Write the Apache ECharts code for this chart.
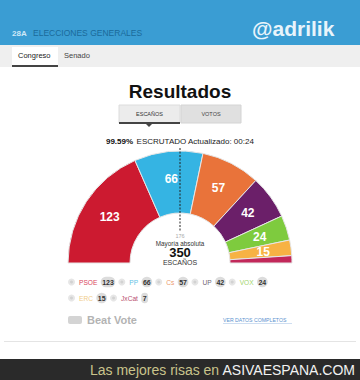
<!DOCTYPE html>
<html>
<head>
<meta charset="utf-8">
<script src="https://cdn.jsdelivr.net/npm/echarts@6/dist/echarts.min.js"></script>
<style>
  html, body { margin: 0; padding: 0; background: #fff; }
  #chart { width: 360px; height: 380px; }
</style>
</head>
<body>
<div id="chart"></div>
<script>
// datos del gráfico
const parties = ['PSOE', 'PP', 'Cs', 'UP', 'VOX', 'ERC', 'JxCat']
const seats = [123, 66, 57, 42, 24, 15, 7]
const totalSeats = 350
const majority = 176
const scrutinized = '99.59%'
const updatedAt = '00:24'

// colores de cada partido
const partyColors = ['#cc1a30', '#35b4e3', '#e9733a', '#6b1f69', '#7ecb3e', '#f7b244', '#c2285a']
const legendColors = ['#d9455a', '#62c2e6', '#eb9a6e', '#6f6575', '#9fd46e', '#f0cc88', '#b8506e']

const font = 'Liberation Sans, Arial, sans-serif'
const chart = echarts.init(document.getElementById('chart'), null, { renderer: 'svg' })

const rich = { b: { backgroundColor: '#dcdcdc', borderRadius: 6, padding: [2, 1.5, 1.5, 1.5], fontWeight: 'bold', fontSize: 7, color: '#333', fontFamily: font } }
parties.forEach((p, i) => {
  rich['c' + i] = { color: legendColors[i], fontSize: 6.6, fontFamily: font }
})

// leyenda en dos filas
const makeLegend = (names, top) => ({
  data: names,
  left: 68,
  top: top,
  padding: 0,
  itemGap: 3,
  icon: 'circle',
  itemWidth: 5,
  itemHeight: 5,
  itemStyle: { color: '#d2d2d2' },
  selectedMode: false,
  formatter: name => {
    const i = parties.indexOf(name)
    return '{c' + i + '|' + name + '} {b|' + seats[i] + '}'
  },
  textStyle: { rich: rich }
})

chart.setOption({
  animation: false,
  backgroundColor: '#fff',
  legend: [makeLegend(parties.slice(0, 5), 276), makeLegend(parties.slice(5), 292)],
  series: [{
    type: 'pie',
    center: [180, 263],
    radius: [50, 112],
    startAngle: 180,
    endAngle: 360,
    silent: true,
    data: parties.map((p, i) => ({ name: p, value: seats[i], itemStyle: { color: partyColors[i] } })),
    itemStyle: { borderColor: '#e6e6e6', borderWidth: 1 },
    label: {
      show: true,
      position: 'inside',
      color: '#fff',
      fontWeight: 'bold',
      fontSize: 12,
      fontFamily: font,
      formatter: p => (p.value >= 10 ? p.value : '')
    },
    labelLine: { show: false }
  }],
  graphic: [
    // cabecera azul
    { type: 'rect', shape: { x: 0, y: 0, width: 360, height: 45 }, style: { fill: '#3a9dd3' }, z: 1 },
    { type: 'text', x: 12, y: 33, style: { text: '28A', fill: '#cfe8f7', font: 'bold 8px ' + font, textVerticalAlign: 'middle' }, z: 2 },
    { type: 'text', x: 33, y: 33, style: { text: 'ELECCIONES GENERALES', fill: '#1b6a9a', font: '8.5px ' + font, textVerticalAlign: 'middle' }, z: 2 },
    { type: 'text', x: 252, y: 28, style: { text: '@adrilik', fill: '#e8f4fb', font: 'bold 21px ' + font, textVerticalAlign: 'middle' }, z: 2 },
    // pestañas
    { type: 'rect', shape: { x: 0, y: 45, width: 360, height: 22 }, style: { fill: '#efefef' }, z: 1 },
    { type: 'rect', shape: { x: 12, y: 47, width: 46, height: 20 }, style: { fill: '#fff' }, z: 2 },
    { type: 'rect', shape: { x: 12, y: 65, width: 46, height: 2 }, style: { fill: '#444' }, z: 3 },
    { type: 'text', x: 18, y: 55, style: { text: 'Congreso', fill: '#222', font: '7.5px ' + font, textVerticalAlign: 'middle' }, z: 3 },
    { type: 'text', x: 64, y: 55, style: { text: 'Senado', fill: '#444', font: '7.5px ' + font, textVerticalAlign: 'middle' }, z: 3 },
    // título
    { type: 'text', x: 180, y: 91, style: { text: 'Resultados', fill: '#111', font: 'bold 19px ' + font, textAlign: 'center', textVerticalAlign: 'middle' }, z: 3 },
    { type: 'rect', shape: { x: 119, y: 105, width: 61, height: 18 }, style: { fill: '#ececec', stroke: '#dcdcdc' }, z: 2 },
    { type: 'rect', shape: { x: 181, y: 105, width: 60, height: 18 }, style: { fill: '#e0e0e0', stroke: '#d4d4d4' }, z: 2 },
    { type: 'rect', shape: { x: 119, y: 122, width: 61, height: 2 }, style: { fill: '#444' }, z: 3 },
    { type: 'polygon', shape: { points: [[146, 124], [152, 124], [149, 127]] }, style: { fill: '#444' }, z: 3 },
    { type: 'text', x: 149.5, y: 114, style: { text: 'ESCAÑOS', fill: '#333', font: '5.5px ' + font, textAlign: 'center', textVerticalAlign: 'middle' }, z: 3 },
    { type: 'text', x: 211, y: 114, style: { text: 'VOTOS', fill: '#444', font: '5.5px ' + font, textAlign: 'center', textVerticalAlign: 'middle' }, z: 3 },
    {
      type: 'text', x: 180, y: 141,
      style: {
        text: '{a|' + scrutinized + '} {n|ESCRUTADO Actualizado: ' + updatedAt + '}',
        textAlign: 'center',
        textVerticalAlign: 'middle',
        rich: { a: { fontWeight: 'bold', fontSize: 8, fill: '#111', fontFamily: font }, n: { fontSize: 8, fill: '#222', fontFamily: font } }
      },
      z: 3
    },
    // línea de mayoría
    { type: 'line', shape: { x1: 180, y1: 148, x2: 180, y2: 232 }, style: { stroke: '#222', lineWidth: 1, lineDash: [2, 1.5] }, z: 100 },
    { type: 'text', x: 180, y: 236, style: { text: String(majority), fill: '#aaa', font: '5.5px ' + font, textAlign: 'center', textVerticalAlign: 'middle' }, z: 100 },
    { type: 'text', x: 180, y: 243, style: { text: 'Mayoría absoluta', fill: '#333', font: '6.3px ' + font, textAlign: 'center', textVerticalAlign: 'middle' }, z: 100 },
    { type: 'text', x: 180, y: 252.5, style: { text: String(totalSeats), fill: '#111', font: 'bold 13px ' + font, textAlign: 'center', textVerticalAlign: 'middle' }, z: 100 },
    { type: 'text', x: 180, y: 262, style: { text: 'ESCAÑOS', fill: '#333', font: '7px ' + font, textAlign: 'center', textVerticalAlign: 'middle' }, z: 100 },
    // pie de la tarjeta
    { type: 'rect', shape: { x: 68, y: 316, width: 14, height: 8, r: 2 }, style: { fill: '#d4d4d4' }, z: 3 },
    { type: 'text', x: 87, y: 319.5, style: { text: 'Beat Vote', fill: '#b3b3b3', font: 'bold 11px ' + font, textVerticalAlign: 'middle' }, z: 3 },
    { type: 'text', x: 223, y: 320, style: { text: 'VER DATOS COMPLETOS', fill: '#5b93cf', font: '5.2px ' + font, textVerticalAlign: 'middle' }, z: 3 },
    { type: 'line', shape: { x1: 223, y1: 323.5, x2: 292, y2: 323.5 }, style: { stroke: '#9cbde2', lineWidth: 0.5 }, z: 3 },
    { type: 'line', shape: { x1: 4, y1: 341.5, x2: 356, y2: 341.5 }, style: { stroke: '#e4e4e4', lineWidth: 1 }, z: 3 },
    // franja inferior
    { type: 'rect', shape: { x: 0, y: 359, width: 360, height: 21 }, style: { fill: '#2a2a2a' }, z: 1 },
    {
      type: 'text', x: 355, y: 370,
      style: {
        text: '{a|Las mejores risas en} {b|ASIVAESPANA.COM}',
        textAlign: 'right',
        textVerticalAlign: 'middle',
        rich: { a: { fontSize: 14, fill: '#c9c48c', fontFamily: font }, b: { fontSize: 14, fill: '#f2f2f2', fontFamily: font } }
      },
      z: 2
    }
  ]
})
</script>
</body>
</html>
